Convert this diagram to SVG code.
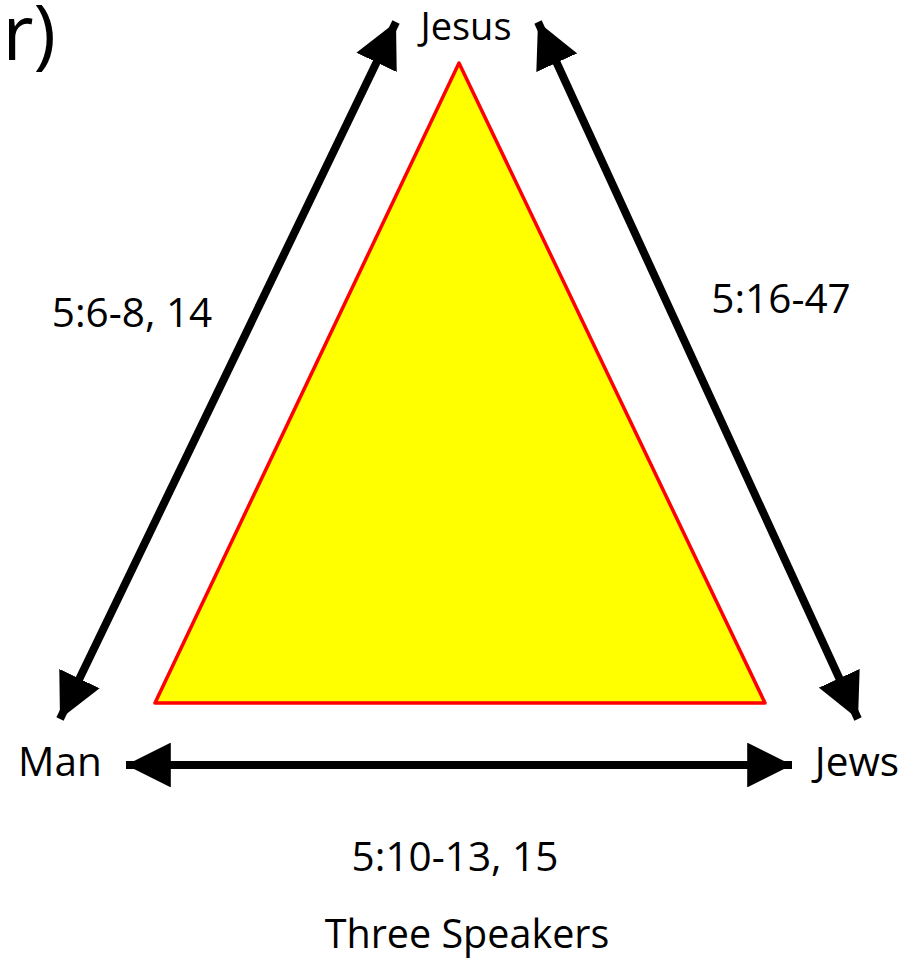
<svg xmlns="http://www.w3.org/2000/svg" width="920" height="960" viewBox="0 0 920 960">
<style>
text{font-family:"Open Sans","Liberation Sans",sans-serif;fill:#000}
.lbl{font-size:40.5px}
.ln{stroke:#000;stroke-width:8;fill:none}
</style>
<defs>
<marker id="ah" viewBox="0 0 10 10" refX="10" refY="5" markerWidth="5.6" markerHeight="5.6" markerUnits="strokeWidth" orient="auto-start-reverse">
<path d="M0,0 L10,5 L0,10 z" fill="#000"/>
</marker>
</defs>
<rect width="920" height="960" fill="#fff"/>
<text x="56" y="60" text-anchor="end" style="font-size:76px">r)</text>
<g id="triangle">
<polygon points="459,63 155,703 765,703" fill="#ffff00" stroke="#ff0000" stroke-width="3.5" stroke-linejoin="round"/>
</g>
<g id="connectors">
<line class="ln" x1="60" y1="719" x2="396" y2="22" marker-start="url(#ah)" marker-end="url(#ah)"/>
<line class="ln" x1="858" y1="719" x2="538" y2="22" marker-start="url(#ah)" marker-end="url(#ah)"/>
<line class="ln" x1="126" y1="765" x2="792" y2="765" marker-start="url(#ah)" marker-end="url(#ah)"/>
</g>
<g id="jesus"><text x="466" y="40" text-anchor="middle" style="font-size:38px">Jesus</text></g>
<g id="man"><text class="lbl" x="60" y="776" text-anchor="middle">Man</text></g>
<g id="jews"><text class="lbl" x="857" y="776" text-anchor="middle">Jews</text></g>
<g id="label-left"><text class="lbl" x="132" y="327" text-anchor="middle">5:6-8, 14</text></g>
<g id="label-right"><text class="lbl" x="781" y="313" text-anchor="middle">5:16-47</text></g>
<g id="label-bottom"><text class="lbl" x="455" y="871" text-anchor="middle">5:10-13, 15</text></g>
<g id="caption"><text x="467" y="948" text-anchor="middle" style="font-size:39.5px">Three Speakers</text></g>
</svg>
